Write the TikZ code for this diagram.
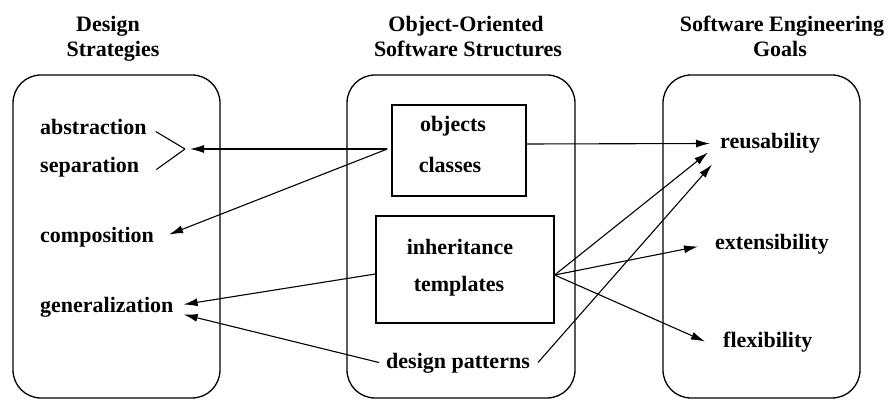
\documentclass[tikz,border=0pt]{standalone}
\usepackage{fontspec}
\setmainfont{Liberation Serif}
\usetikzlibrary{arrows.meta}
\begin{document}
\begin{tikzpicture}[x=1pt,y=-1pt,
  lbl/.style={font=\fontsize{22}{26}\selectfont\bfseries, inner sep=0pt, text height=15pt, text depth=4pt},
  hdr/.style={lbl, anchor=base},
  panel/.style={draw, line width=1.3pt, rounded corners=28pt},
  inbox/.style={draw, line width=1.3pt},
  conn/.style={line width=1.1pt},
  arr/.style={conn, -{Latex[length=14pt,width=8pt]}}]
\useasboundingbox (0,0) rectangle (889,403);
% headers
\node[hdr] (h1a) at (108,32) {Design};
\node[hdr] (h1b) at (113,57) {Strategies};
\node[hdr] (h2a) at (466,32) {Object-Oriented};
\node[hdr] (h2b) at (468,57) {Software Structures};
\node[hdr] (h3a) at (782,32) {Software Engineering};
\node[hdr] (h3b) at (780,57) {Goals};
% panels
\node[panel, minimum width=207pt, minimum height=323pt] (ds) at (116.5,236.5) {};
\node[panel, minimum width=228pt, minimum height=323pt] (oo) at (461,236.5) {};
\node[panel, minimum width=197pt, minimum height=323pt] (se) at (761.5,236.5) {};
% inner boxes
\node[inbox, minimum width=134pt, minimum height=91pt] (obj) at (459,150.5) {};
\node[inbox, minimum width=178pt, minimum height=107pt] (inh) at (465,269.5) {};
% left texts
\node[lbl, anchor=base west] (abst) at (40,135) {abstraction};
\node[lbl, anchor=base west] (sep) at (40,173) {separation};
\node[lbl, anchor=base west] (comp) at (40,243) {composition};
\node[lbl, anchor=base west] (gen) at (40,313) {generalization};
% middle texts
\node[lbl, anchor=base] (tobj) at (453,132) {objects};
\node[lbl, anchor=base] (tcls) at (450,173) {classes};
\node[lbl, anchor=base] (tinh) at (460,255) {inheritance};
\node[lbl, anchor=base] (ttpl) at (459,292) {templates};
\node[lbl, anchor=base] (dp) at (458,368) {design patterns};
% right texts
\node[lbl, anchor=base west] (reus) at (720,149) {reusability};
\node[lbl, anchor=base west] (ext) at (715,250) {extensibility};
\node[lbl, anchor=base west] (flex) at (723,348) {flexibility};
% bracket
\coordinate (br) at (185,149);
\draw[conn] ([xshift=9pt,yshift=-2pt]abst.east) -- (br);
\draw[conn] ([xshift=17pt,yshift=-2pt]sep.east) -- (br);
% arrows to the left
\draw[arr] ([xshift=-4pt,yshift=1.5pt]obj.west) -- ([xshift=5pt]br);
\draw[arr] ([xshift=-4pt,yshift=1.5pt]obj.west) -- ([xshift=15pt,yshift=3pt]comp.east);
\draw[arr] ([yshift=-4.5pt]inh.west) -- ([xshift=10pt,yshift=3pt]gen.east);
\draw[arr] ([xshift=-7pt]dp.west) -- ([xshift=10pt,yshift=-7pt]gen.east);
% arrows to the right
\draw[arr] ([yshift=6.5pt]obj.east) -- ([xshift=-10pt,yshift=0pt]reus.west);
\draw[arr] ([yshift=-5.5pt]inh.east) -- ([xshift=-12pt,yshift=-9pt]reus.west);
\draw[arr] ([yshift=-5.5pt]inh.east) -- ([xshift=-17pt,yshift=-2pt]ext.west);
\draw[arr] ([yshift=-5.5pt]inh.east) -- ([xshift=-18pt,yshift=1pt]flex.west);
\draw[arr] ([xshift=8pt]dp.east) -- ([xshift=-8pt,yshift=-21pt]reus.west);
\end{tikzpicture}
\end{document}
